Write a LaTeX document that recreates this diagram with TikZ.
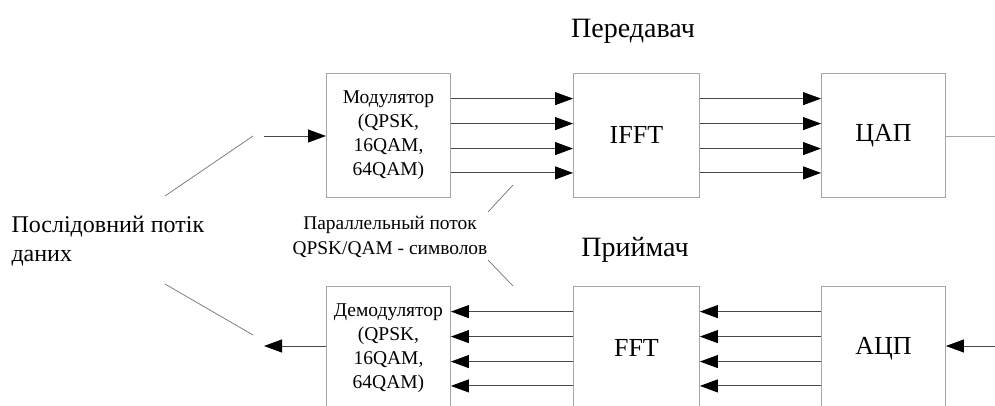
\documentclass[tikz,border=0pt]{standalone}
\usepackage{fontspec}
\setmainfont{Liberation Serif}
\usetikzlibrary{arrows.meta,calc}
\begin{document}
\begin{tikzpicture}[x=1pt,y=-1pt,
  blockbox/.style={draw=black!35,line width=0.9pt,minimum width=124pt,minimum height=124pt,inner sep=0pt,align=center,anchor=north west},
  sig/.style={draw=black!72,line width=0.9pt,-{Triangle[length=18pt,width=13pt,color=black,fill=black]}},
  pointer/.style={draw=black!55,line width=0.7pt},
  outl/.style={draw=black!35,line width=0.9pt}]
\clip (0,0) rectangle (995,406);
\fill[white] (0,0) rectangle (995,406);
% top row
\node[blockbox,font=\fontsize{19.5}{24}\selectfont] (mod) at (326,73) {Модулятор\\(QPSK,\\16QAM,\\64QAM)};
\node[blockbox,minimum width=126pt,font=\fontsize{26}{30}\selectfont] (ifft) at (573,73) {IFFT};
\node[blockbox,font=\fontsize{26}{30}\selectfont] (dac) at (821,73) {ЦАП};
% bottom row
\node[blockbox,font=\fontsize{19.5}{24}\selectfont] (demod) at (326,286) {Демодулятор\\(QPSK,\\16QAM,\\64QAM)};
\node[blockbox,minimum width=126pt,font=\fontsize{26}{30}\selectfont] (fft) at (573,286) {FFT};
\node[blockbox,font=\fontsize{26}{30}\selectfont] (adc) at (821,286) {АЦП};
% titles
\node[font=\fontsize{28}{32}\selectfont] (tx) at (633,31) {Передавач};
\node[font=\fontsize{28}{32}\selectfont] (rx) at (635,250) {Приймач};
\node[font=\fontsize{24}{29}\selectfont,align=left,anchor=west] (ser) at (8,241) {Послідовний потік\\даних};
\node[font=\fontsize{19.4}{25}\selectfont,align=center] (par) at (390,237) {Параллельный поток\\QPSK/QAM - символов};
% parallel arrows
\foreach \f in {0.205,0.405,0.605,0.8}{
  \draw[sig] ($(mod.north east)!\f!(mod.south east)$) -- ($(ifft.north west)!\f!(ifft.south west)$);
  \draw[sig] ($(ifft.north east)!\f!(ifft.south east)$) -- ($(dac.north west)!\f!(dac.south west)$);
  \draw[sig] ($(adc.north west)!\f!(adc.south west)$) -- ($(fft.north east)!\f!(fft.south east)$);
  \draw[sig] ($(fft.north west)!\f!(fft.south west)$) -- ($(demod.north east)!\f!(demod.south east)$);
}
% serial in/out
\coordinate (inTx) at (264,136);
\coordinate (outTx) at (995,136);
\coordinate (inRx) at (995,346);
\coordinate (outRx) at (264,346);
\draw[sig] (inTx) -- (mod.west |- inTx);
\draw[outl] (dac.east |- outTx) -- (outTx);
\draw[sig] (inRx) -- (adc.east |- inRx);
\draw[sig] (demod.west |- outRx) -- (outRx);
% pointer lines
\coordinate (p1a) at (165,196); \coordinate (p1b) at (253,136);
\coordinate (p2a) at (165,284); \coordinate (p2b) at (253,335);
\coordinate (p3a) at (488,212); \coordinate (p3b) at (513,185);
\coordinate (p4a) at (488,260); \coordinate (p4b) at (513,286);
\draw[pointer] (p1a) -- (p1b);
\draw[pointer] (p2a) -- (p2b);
\draw[pointer] (p3a) -- (p3b);
\draw[pointer] (p4a) -- (p4b);
\end{tikzpicture}
\end{document}
